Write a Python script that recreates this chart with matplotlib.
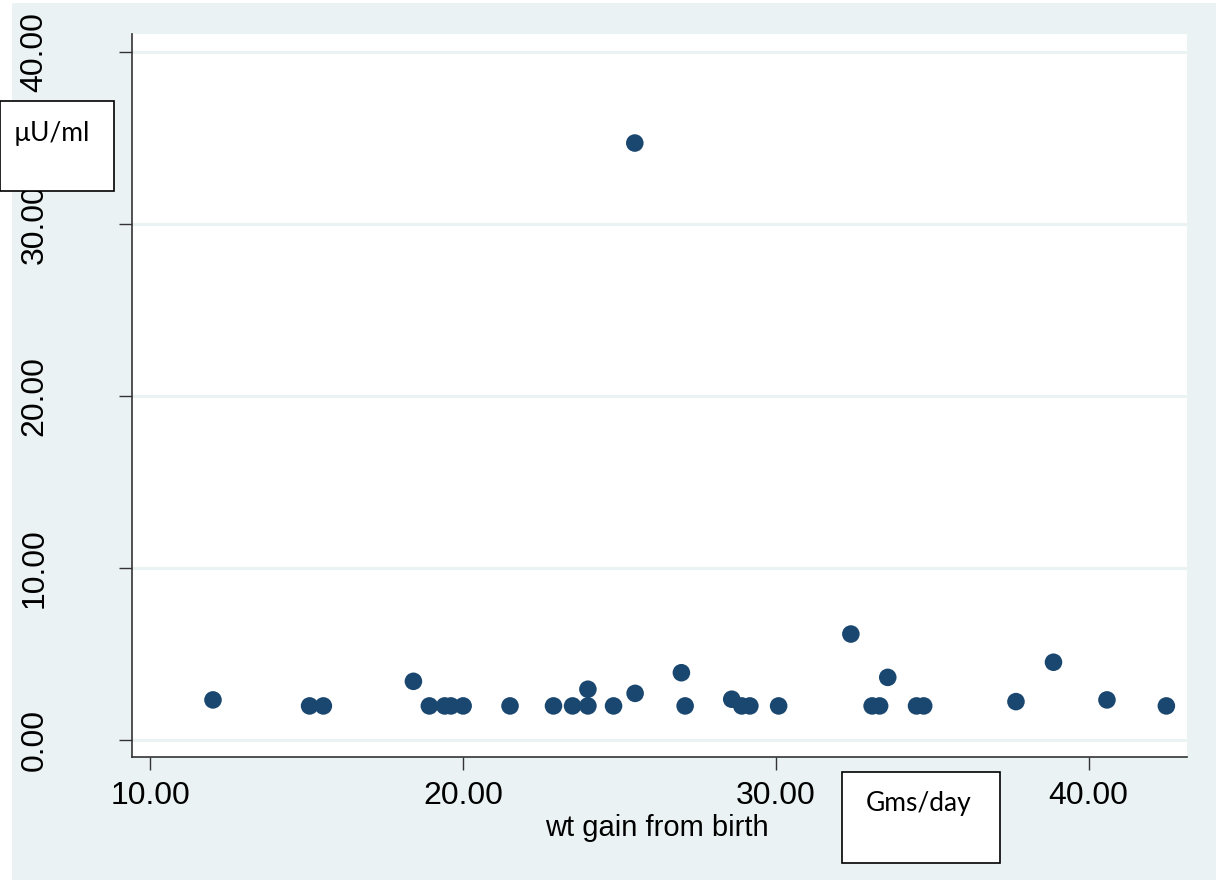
import matplotlib
matplotlib.use('Agg')
import matplotlib.pyplot as plt
from matplotlib.patches import Rectangle

# wt gain from birth (Gms/day) vs insulin (uU/ml)
wt_gain = [12.0, 15.09, 15.53, 18.41, 18.92, 19.41, 19.61, 20.0, 21.5, 22.89,
           23.5, 23.99, 23.99, 24.81, 25.5, 25.49, 26.98, 27.1, 28.59, 28.91,
           29.17, 30.09, 32.4, 33.08, 33.32, 33.58, 34.5, 34.73, 37.68, 38.88,
           40.59, 42.49]
insulin = [2.33, 1.98, 1.98, 3.41, 1.98, 1.98, 1.98, 1.98, 1.98, 1.98,
           1.98, 2.95, 1.98, 1.98, 2.71, 34.71, 3.91, 1.98, 2.37, 1.98,
           1.98, 1.98, 6.16, 1.98, 1.98, 3.64, 1.98, 1.98, 2.23, 4.52,
           2.33, 1.98]
x_ticks = [10, 20, 30, 40]
y_ticks = [0, 10, 20, 30, 40]

W, H = 1216, 880
bg = '#EAF2F3'
navy = '#1A476F'

plt.rcParams['font.family'] = ['Liberation Sans', 'DejaVu Sans']

fig = plt.figure(figsize=(W / 100, H / 100), dpi=100)
fig.patch.set_facecolor('white')

# light outer background, behind the axes
fig.patches.append(Rectangle((12 / W, 0), 1 - 12 / W, (H - 3) / H,
                             transform=fig.transFigure, facecolor=bg,
                             edgecolor='none', zorder=-10))

left, right, top, bottom = 132, 1187, 34, 757
ax = fig.add_axes([left / W, (H - bottom) / H, (right - left) / W, (bottom - top) / H])
ax.set_zorder(1)
ax.set_facecolor('white')

ax.scatter(wt_gain, insulin, s=160, color=navy, edgecolors='none', zorder=3)

ax.set_xlim(9.41, 43.15)
ax.set_ylim(-0.99, 41.05)
ax.set_xticks(x_ticks)
ax.set_xticklabels(['%.2f' % v for v in x_ticks])
ax.set_yticks(y_ticks)
ax.set_yticklabels(['%.2f' % v for v in y_ticks], rotation=90, va='center')

ax.grid(axis='y', color=bg, linewidth=2.2, zorder=1)
ax.grid(axis='x', visible=False)

for s in ['top', 'right']:
    ax.spines[s].set_visible(False)
for s in ['left', 'bottom']:
    ax.spines[s].set_color('#333333')
    ax.spines[s].set_linewidth(1.2)

ax.tick_params(axis='y', length=9.5, width=1, color='#333333', pad=50, labelsize=23)
ax.tick_params(axis='x', length=9, width=1, color='#333333', pad=8, labelsize=23)

ax.set_xlabel('wt gain from birth', fontsize=21)
ax.xaxis.set_label_coords((657 - left) / (right - left), (bottom - 828) / (bottom - top))
ax.xaxis.label.set_va('center')

# unit boxes on top of everything
box_kw = dict(facecolor='white', edgecolor='black', linewidth=1.2, zorder=5)
fig.add_artist(Rectangle((0, (H - 191) / H), 114 / W, 90 / H,
                         transform=fig.transFigure, **box_kw))
fig.text(14 / W, (H - 133) / H, 'µU/ml', fontsize=19, family=['Lato', 'DejaVu Sans'],
         ha='left', va='center', zorder=6)

fig.add_artist(Rectangle((842 / W, (H - 863) / H), 158 / W, 91 / H,
                         transform=fig.transFigure, **box_kw))
fig.text(919 / W, (H - 803) / H, 'Gms/day', fontsize=19, family=['Lato', 'DejaVu Sans'],
         ha='center', va='center', zorder=6)

fig.savefig('out.png', dpi=100)
